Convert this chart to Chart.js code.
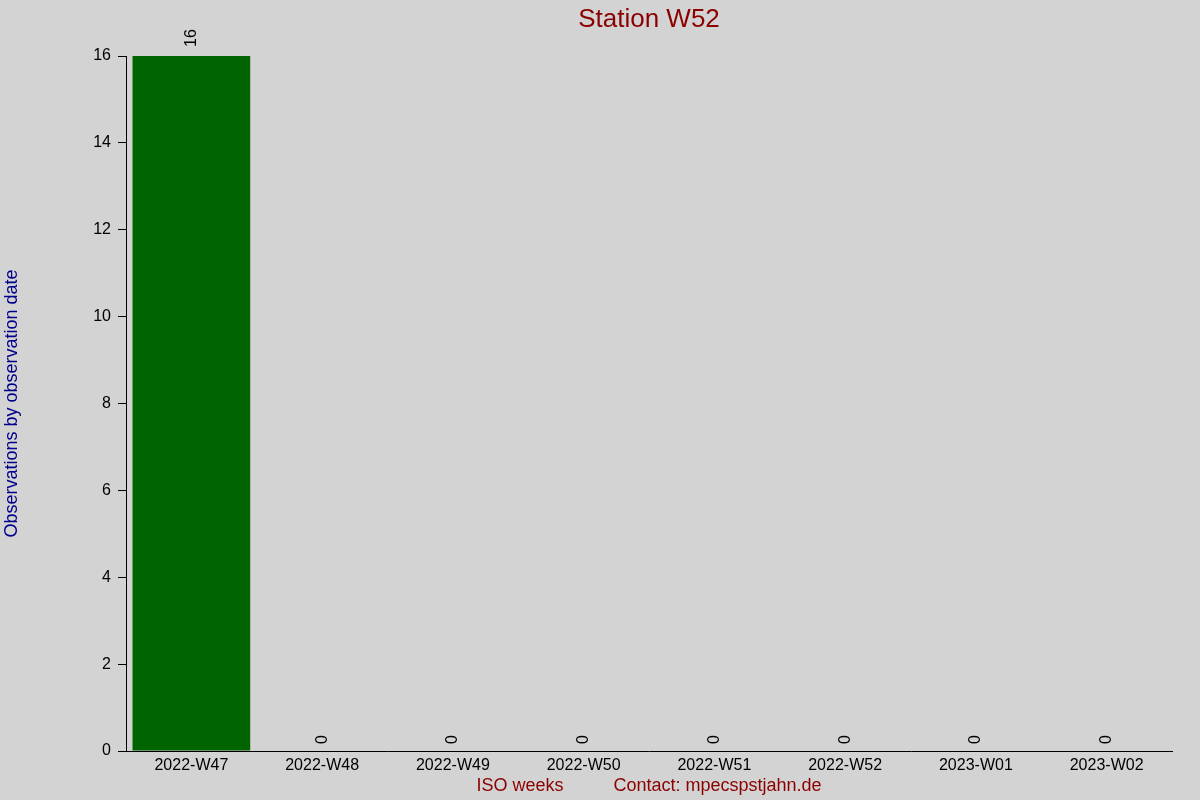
<!DOCTYPE html>
<html>
<head>
<meta charset="utf-8">
<script src="https://cdn.jsdelivr.net/npm/chart.js@4/dist/chart.umd.min.js"></script>
<style>
  html, body { margin: 0; padding: 0; background: #d3d3d3; }
  #wrap { width: 1200px; height: 800px; }
</style>
</head>
<body>
<div id="wrap"><canvas id="c" width="1200" height="800"></canvas></div>
<script>
const categories = ["2022-W47", "2022-W48", "2022-W49", "2022-W50", "2022-W51", "2022-W52", "2023-W01", "2023-W02"];
const observations = [16, 0, 0, 0, 0, 0, 0, 0];
const yTicks = [0, 2, 4, 6, 8, 10, 12, 14, 16];
const chartTitle = "Station W52";
const yTitle = "Observations by observation date";
const xTitle = "ISO weeks\u00A0\u00A0\u00A0\u00A0\u00A0\u00A0\u00A0\u00A0\u00A0\u00A0Contact: mpecspstjahn.de";

const FONT = "'Liberation Sans', Arial, sans-serif";

const bgPlugin = {
  id: 'bg',
  beforeDraw(chart) {
    const ctx = chart.ctx;
    ctx.save();
    ctx.fillStyle = '#d3d3d3';
    ctx.fillRect(0, 0, chart.width, chart.height);
    ctx.restore();
  }
};

const labelPlugin = {
  id: 'valueLabels',
  afterDatasetsDraw(chart) {
    const ctx = chart.ctx;
    const meta = chart.getDatasetMeta(0);
    const data = chart.data.datasets[0].data;
    ctx.save();
    ctx.font = "16px " + FONT;
    ctx.fillStyle = '#000000';
    ctx.textAlign = 'left';
    ctx.textBaseline = 'middle';
    meta.data.forEach((bar, i) => {
      const v = data[i];
      const gap = v > 0 ? 9 : 7;
      ctx.save();
      ctx.translate(bar.x, bar.y - gap);
      ctx.rotate(-Math.PI / 2);
      ctx.fillText(String(v), 0, 0);
      ctx.restore();
    });
    ctx.restore();
  }
};

new Chart(document.getElementById('c'), {
  type: 'bar',
  data: {
    labels: categories,
    datasets: [{
      data: observations,
      backgroundColor: '#006400',
      borderWidth: 0,
      barPercentage: 0.9,
      categoryPercentage: 1.0
    }]
  },
  options: {
    responsive: false,
    devicePixelRatio: 1,
    animation: false,
    layout: { padding: { left: 0, right: 28, top: 0, bottom: 0 } },
    plugins: {
      legend: { display: false },
      tooltip: { enabled: false },
      title: {
        display: true,
        text: chartTitle,
        fullSize: false,
        color: '#8b0000',
        font: { family: FONT, size: 26, weight: 'normal', lineHeight: 1.2 },
        padding: { top: 4.4, bottom: 20.4 }
      }
    },
    scales: {
      x: {
        type: 'category',
        offset: true,
        grid: { display: true, drawOnChartArea: false, drawTicks: false, color: '#000000' },
        border: { display: true, color: '#000000', width: 1 },
        ticks: { color: '#000000', font: { family: FONT, size: 16 }, padding: 5, maxRotation: 0, autoSkip: false },
        title: {
          display: true,
          text: xTitle,
          color: '#8b0000',
          font: { family: FONT, size: 18, lineHeight: 1.2 },
          padding: { top: 0, bottom: 3 }
        },
        afterFit(scale) { scale.height = 49; }
      },
      y: {
        min: 0,
        max: 16,
        afterBuildTicks(scale) { scale.ticks = yTicks.map(v => ({ value: v })); },
        grid: { display: true, drawOnChartArea: false, drawTicks: true, tickLength: 8, color: '#000000' },
        border: { display: true, color: '#000000', width: 1 },
        ticks: { color: '#000000', font: { family: FONT, size: 16 }, padding: 7 },
        title: {
          display: true,
          text: yTitle,
          color: '#00008b',
          font: { family: FONT, size: 18, lineHeight: 1.2 },
          padding: { top: 1, bottom: 0 }
        },
        afterFit(scale) { scale.width = 126; }
      }
    }
  },
  plugins: [bgPlugin, labelPlugin]
});
</script>
</body>
</html>
